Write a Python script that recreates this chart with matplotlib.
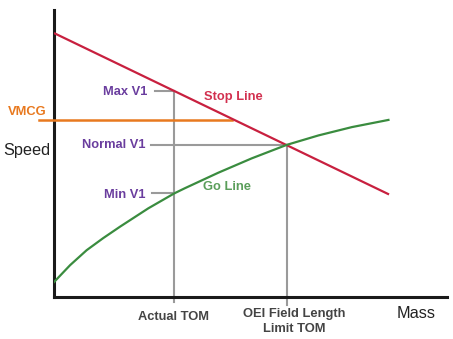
import matplotlib
matplotlib.use("Agg")
import matplotlib.pyplot as plt

plt.rcParams['font.family'] = ['Liberation Sans', 'DejaVu Sans']

# Data (arbitrary units: mass 0-100, speed 0-100)
stop_mass = [0.25, 85.0]
stop_speed = [91.8, 35.9]

go_mass = [0, 4.1, 8.3, 12.5, 16.8, 24.0, 30.6, 33.3, 41.8, 50.3, 59.2, 67.3, 75.8, 85.1]
go_speed = [5.2, 11.1, 16.3, 20.5, 24.5, 30.9, 36.1, 37.9, 43.3, 48.3, 53.0, 56.3, 59.2, 61.7]

vmcg_speed = 61.8
vmcg_mass_range = [-3.8, 45.3]

actual_tom = 30.5
oei_tom = 59.3
max_v1 = 71.8
normal_v1 = 53.0
min_v1 = 36.2

W, H = 453, 339
fig = plt.figure(figsize=(W / 100, H / 100), dpi=100)
ax = fig.add_axes([54 / W, (H - 297) / H, 393 / W, 287 / H])
ax.set_xlim(0, 100)
ax.set_ylim(0, 100)
for s in ['top', 'right']:
    ax.spines[s].set_visible(False)
for s in ['left', 'bottom']:
    ax.spines[s].set_linewidth(2.2)
    ax.spines[s].set_color('#1a1a1a')
ax.set_xticks([])
ax.set_yticks([])

grey = '#9a9a9a'
# vertical guide lines
ax.plot([actual_tom, actual_tom], [-1.7, max_v1], color=grey, lw=1.5, clip_on=False, zorder=2)
ax.plot([oei_tom, oei_tom], [-2.8, normal_v1], color=grey, lw=1.5, clip_on=False, zorder=2)
# horizontal guide lines
ax.plot([25.7, actual_tom], [max_v1, max_v1], color=grey, lw=1.5, zorder=2)
ax.plot([24.7, oei_tom], [normal_v1, normal_v1], color=grey, lw=1.5, zorder=2)
ax.plot([24.9, actual_tom], [min_v1, min_v1], color=grey, lw=1.5, zorder=2)

# VMCG line
ax.plot(vmcg_mass_range, [vmcg_speed, vmcg_speed], color='#e8791f', lw=1.8, clip_on=False, zorder=3)

# Stop and Go lines
ax.plot(stop_mass, stop_speed, color='#c8203f', lw=1.6, zorder=4)
ax.plot(go_mass, go_speed, color='#3a8c3f', lw=1.6, zorder=4, solid_joinstyle='round')

def ftext(x, y, s, **kw):
    fig.text(x / W, 1 - y / H, s, **kw)

purple = '#6a3d9e'
fs = 9.3
ftext(3, 151, 'Speed', fontsize=11.7, color='#222222', va='center', ha='left')
ftext(397, 313, 'Mass', fontsize=11.7, color='#222222', va='center', ha='left')
ftext(8, 112, 'VMCG', fontsize=fs, color='#e8791f', fontweight='bold', va='center', ha='left')
ftext(147, 92, 'Max V1', fontsize=fs, color=purple, fontweight='bold', va='center', ha='right')
ftext(145, 145, 'Normal V1', fontsize=fs, color=purple, fontweight='bold', va='center', ha='right')
ftext(145, 195, 'Min V1', fontsize=fs, color=purple, fontweight='bold', va='center', ha='right')
ftext(204, 97, 'Stop Line', fontsize=fs, color='#d2304f', fontweight='bold', va='center', ha='left')
ftext(203, 187, 'Go Line', fontsize=fs, color='#5a9e5a', fontweight='bold', va='center', ha='left')
ftext(173, 317, 'Actual TOM', fontsize=fs, color='#444444', fontweight='bold', va='center', ha='center')
ftext(294.5, 321.5, 'OEI Field Length\nLimit TOM', fontsize=fs, color='#444444', fontweight='bold',
      va='center', ha='center', linespacing=1.25)

fig.savefig('out.png', dpi=100)
